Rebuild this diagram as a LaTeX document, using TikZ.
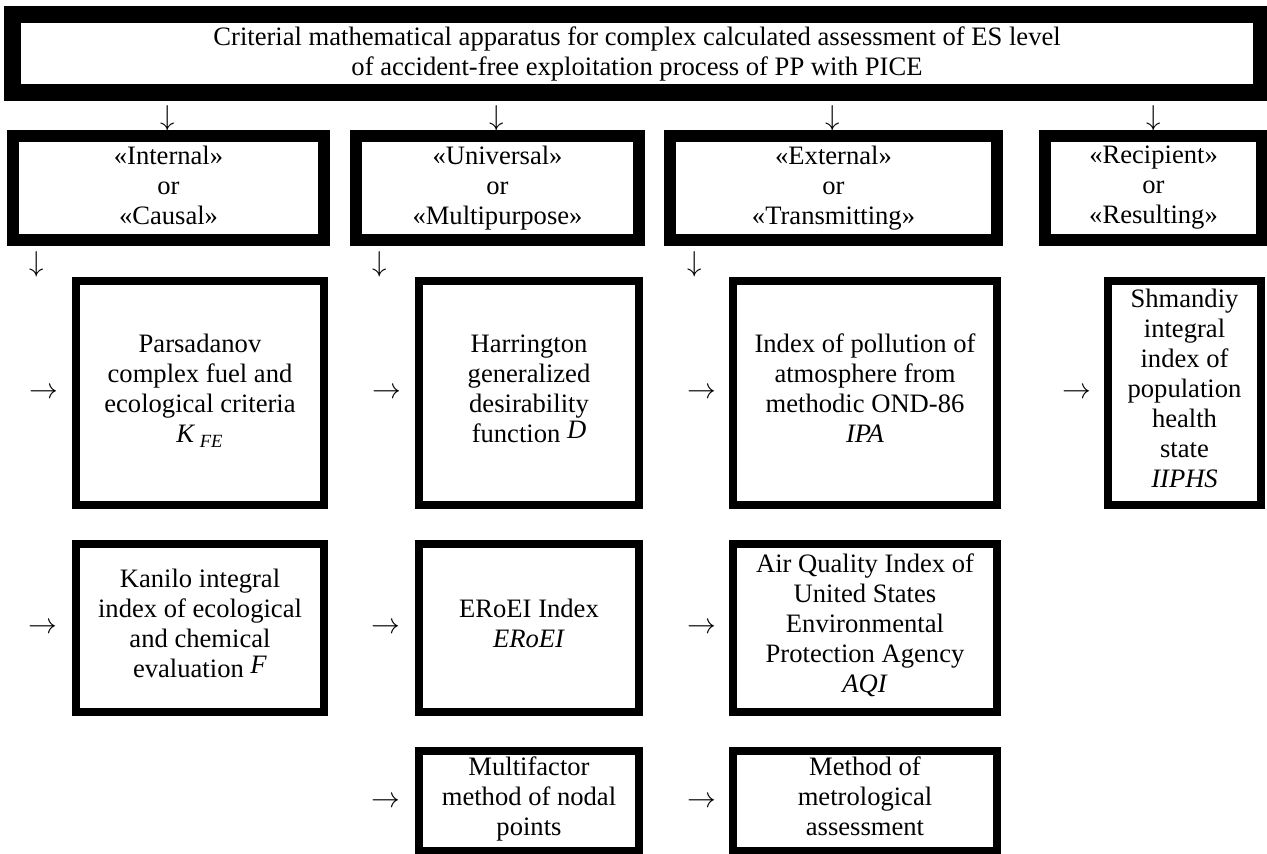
\documentclass[tikz,border=0pt]{standalone}
\usepackage{fontspec}
\setmainfont{Liberation Serif}

\begin{document}
\begin{tikzpicture}[x=0.5pt,y=-0.5pt,
		every node/.style={font=\fontsize{13.3}{15}\selectfont, inner sep=0pt, align=center},
		mainbox/.style={draw, line width=8.5pt},
		groupbox/.style={draw, line width=6pt, minimum height=52pt, execute at begin node=\rule{0pt}{14pt}, execute at end node=\rule[-3pt]{0pt}{3pt}},
		itembox/.style={draw, line width=4pt, execute at begin node=\strut, execute at end node=\strut},
		glyph/.style={}]
			%%%%% START %%%%%
			
			\useasboundingbox (0,0) rectangle (1267,854);
			
			\node[mainbox, minimum width=624.5pt, minimum height=39pt] (top) at (637,53.5) {Criterial mathematical apparatus for complex calculated assessment of ES level\\of accident-free exploitation process of PP with PICE};
			
			\node[glyph] (d1) at (168,118) {$\downarrow$};
			\node[glyph] (d2) at (497,118) {$\downarrow$};
			\node[glyph] (d3) at (833,118) {$\downarrow$};
			\node[glyph] (d4) at (1154,118) {$\downarrow$};
			
			\node[groupbox, minimum width=155.5pt] (internal) at (168.5,188) {«Internal»\\or\\«Causal»};
			\node[groupbox, minimum width=141.5pt] (universal) at (497.5,188) {«Universal»\\or\\«Multipurpose»};
			\node[groupbox, minimum width=163.5pt] (external) at (833.5,188) {«External»\\or\\«Transmitting»};
			\node[groupbox, minimum width=108.5pt] (recipient) at (1153.5,188) {«Recipient»\\or\\«Resulting»};
			
			\node[glyph] (s1) at (37,264) {$\downarrow$};
			\node[glyph] (s2) at (380,264) {$\downarrow$};
			\node[glyph] (s3) at (695,264) {$\downarrow$};
			
			% third row
			\node[glyph] (r1) at (44,393) {$\rightarrow$};
			\node[itembox, minimum width=124pt, minimum height=112pt] (parsadanov) at (200,393) {Parsadanov\\complex fuel and\\ecological criteria\\\textit{K}\,\textsubscript{\textit{FE}}};
			\node[glyph] (r2) at (387,393) {$\rightarrow$};
			\node[itembox, minimum width=110pt, minimum height=112pt] (harrington) at (529,393) {Harrington\\generalized\\desirability\\function~\raisebox{2pt}{\textit{D}}};
			\node[glyph] (r3) at (702,393) {$\rightarrow$};
			\node[itembox, minimum width=132pt, minimum height=112pt] (ipa) at (865,393) {Index of pollution of\\atmosphere from\\methodic OND-86\\\textit{IPA}};
			\node[glyph] (r4) at (1077,393) {$\rightarrow$};
			\node[itembox, minimum width=76.5pt, minimum height=112pt] (shmandiy) at (1184.5,393) {Shmandiy\\integral\\index of\\population\\health\\state\\\textit{IIPHS}};
			
			% fourth row
			\node[glyph] (k1) at (43,628) {$\rightarrow$};
			\node[itembox, minimum width=124pt, minimum height=84pt] (kanilo) at (200,628) {Kanilo integral\\index of ecological\\and chemical\\evaluation~\raisebox{2pt}{\textit{F}}};
			\node[glyph] (k2) at (386,628) {$\rightarrow$};
			\node[itembox, minimum width=110pt, minimum height=84pt] (eroei) at (529,628) {ERoEI Index\\\textit{ERoEI}};
			\node[glyph] (k3) at (702,628) {$\rightarrow$};
			\node[itembox, minimum width=132pt, minimum height=84pt] (aqi) at (865,628) {Air Quality Index of\\United States\\Environmental\\Protection Agency\\\textit{AQI}};
			
			% fifth row
			\node[glyph] (m1) at (386,802) {$\rightarrow$};
			\node[itembox, minimum width=110pt, minimum height=50pt] (multifactor) at (529,801) {Multifactor\\method of nodal\\points};
			\node[glyph] (m2) at (702,802) {$\rightarrow$};
			\node[itembox, minimum width=132pt, minimum height=50pt] (metrol) at (865,801) {Method of\\metrological\\assessment};
			
			%%%%% END %%%%%
		\end{tikzpicture}
\end{document}
